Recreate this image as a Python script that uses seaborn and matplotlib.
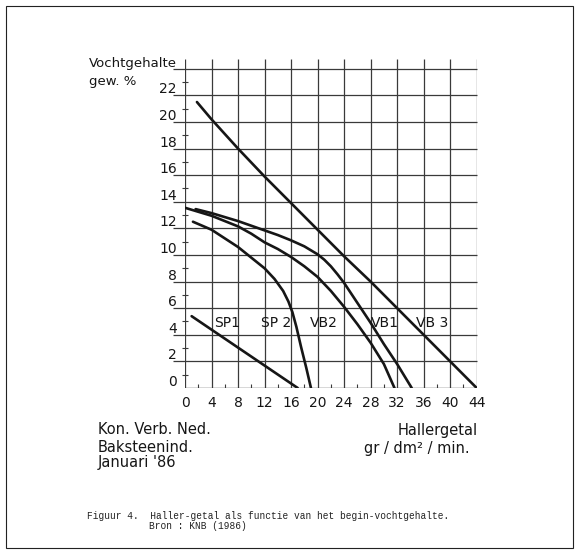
import pandas as pd
import seaborn as sns
import matplotlib.pyplot as plt
from matplotlib.patches import Rectangle

sns.set_style("white")
plt.rcParams['font.family'] = ['DejaVu Sans']

# curves (Hallergetal, Vochtgehalte)
sp1_x = [1.0, 17.0]
sp1_y = [5.4, 0.0]
sp2_x = [1.2, 4, 8, 10, 12, 13.5, 14.8, 15.6, 16.2, 16.8, 17.5, 18.3, 19.0]
sp2_y = [12.5, 11.9, 10.6, 9.8, 9.0, 8.2, 7.3, 6.5, 5.7, 4.6, 3.1, 1.5, 0.0]
vb2_x = [0, 4, 8, 10, 12, 14, 16, 18, 20, 22, 24, 26, 28, 30, 31.6]
vb2_y = [13.55, 12.95, 12.15, 11.6, 10.95, 10.45, 9.85, 9.15, 8.35, 7.3, 6.1, 4.8, 3.4, 1.8, 0.0]
vb1_x = [1.6, 4, 8, 12, 14, 16, 18, 20, 21, 22, 23, 24, 26, 28, 30, 32, 34.2]
vb1_y = [13.45, 13.15, 12.55, 11.85, 11.5, 11.1, 10.65, 10.05, 9.65, 9.15, 8.55, 7.9, 6.4, 4.9, 3.3, 1.8, 0.0]
vb3_x = [1.8, 4, 8, 12, 16, 20, 24, 28, 32, 36, 40, 44]
vb3_y = [21.5, 20.2, 18.0, 15.9, 13.9, 11.9, 9.9, 8.0, 6.0, 4.0, 2.0, 0.0]

curve_names = ["SP1", "SP 2", "VB2", "VB1", "VB 3"]
label_x = [6.3, 13.8, 21.0, 30.1, 37.3]
label_y = 4.86

x_ticks = list(range(0, 45, 4))
y_ticks = list(range(0, 24, 2))

frames = []
for name, xs, ys in zip(curve_names, [sp1_x, sp2_x, vb2_x, vb1_x, vb3_x],
                        [sp1_y, sp2_y, vb2_y, vb1_y, vb3_y]):
    frames.append(pd.DataFrame({"haller": xs, "vocht": ys, "curve": name}))
df = pd.concat(frames, ignore_index=True)

W, H = 580, 554
fig = plt.figure(figsize=(5.8, 5.54), dpi=100)
ax = fig.add_axes([185 / W, 1 - 388 / H, 291.7 / W, 329.2 / H])

ink = "#161616"
grid = "#3a3a3a"

# grid: vertical lines run past the top, horizontal ones reach out left
for xv in x_ticks:
    ax.vlines(xv, 0, 24.75, color=grid, lw=0.9, zorder=1)
for yv in range(2, 25, 2):
    ax.hlines(yv, -1.8, 44, color=grid, lw=0.9, clip_on=False, zorder=1)
ax.hlines(0, 0, 44, color=grid, lw=1.0, zorder=1)
for yv in range(1, 24, 2):
    ax.hlines(yv, -0.4, 0.4, color=grid, lw=0.8, clip_on=False)
for xv in range(2, 44, 4):
    ax.vlines(xv, 0, 0.3, color=grid, lw=0.8)

sns.lineplot(data=df, x="haller", y="vocht", units="curve", estimator=None,
             sort=False, color=ink, lw=1.9, ax=ax, zorder=3)

for name, lx in zip(curve_names, label_x):
    ax.text(lx, label_y, name, ha="center", va="center", fontsize=10, color=ink)

for yv in y_ticks:
    ax.text(-1.25, yv + 0.45, str(yv), ha="right", va="center", fontsize=10,
            color=ink, clip_on=False)

ax.set_xlim(0, 44)
ax.set_ylim(0, 24.75)
ax.set_xticks(x_ticks)
ax.set_xticklabels([str(v) for v in x_ticks], fontsize=10, color=ink)
ax.set_yticks([])
ax.tick_params(axis="x", length=0, pad=6)
ax.set_xlabel("")
ax.set_ylabel("")
for s in ["top", "right", "bottom", "left"]:
    ax.spines[s].set_visible(False)

fig.text(89 / W, 1 - 63 / H, "Vochtgehalte", fontsize=9.5, color=ink, va="center")
fig.text(89 / W, 1 - 81 / H, "gew. %", fontsize=9.5, color=ink, va="center")

fig.text(98 / W, 1 - 430 / H, "Kon. Verb. Ned.", fontsize=10.5, color=ink, va="center")
fig.text(98 / W, 1 - 447 / H, "Baksteenind.", fontsize=10.5, color=ink, va="center")
fig.text(98 / W, 1 - 463 / H, "Januari '86", fontsize=10.5, color=ink, va="center")
fig.text(478 / W, 1 - 430 / H, "Hallergetal", fontsize=10.5, color=ink,
         va="center", ha="right")
fig.text(470 / W, 1 - 448 / H, "gr / dm² / min.", fontsize=10.5, color=ink,
         va="center", ha="right")

fig.text(87 / W, 1 - 516 / H,
         "Figuur 4.  Haller-getal als functie van het begin-vochtgehalte.",
         fontsize=6.85, family="Liberation Mono", color="#222222", va="center")
fig.text(149 / W, 1 - 526 / H, "Bron : KNB (1986)",
         fontsize=6.85, family="Liberation Mono", color="#222222", va="center")

fig.patches.append(Rectangle((6 / W, 1 - 548 / H), 567 / W, 542 / H,
                             transform=fig.transFigure, fill=False,
                             edgecolor="#222222", lw=0.8))

fig.savefig("out.png", dpi=100)
